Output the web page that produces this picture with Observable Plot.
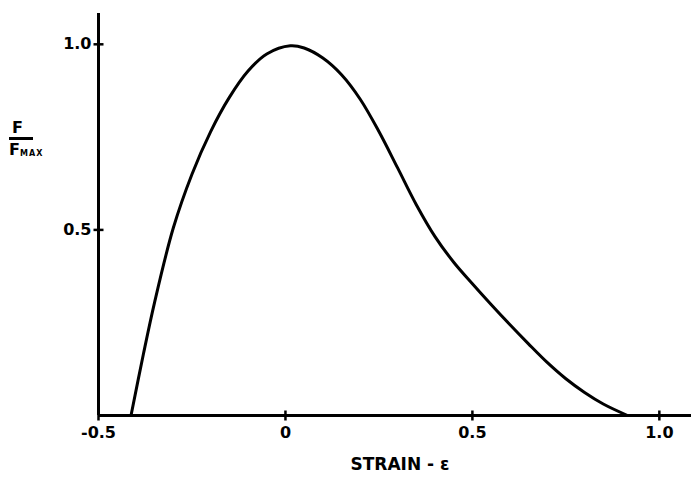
<!DOCTYPE html>
<html>
<head>
<meta charset="utf-8">
<script src="https://cdn.jsdelivr.net/npm/d3@7"></script>
<script src="https://cdn.jsdelivr.net/npm/@observablehq/plot@0.6"></script>
<style>
  html, body { margin: 0; padding: 0; background: #fff; }
  #wrap { position: relative; width: 691px; height: 478px; font-family: "DejaVu Sans", sans-serif; font-weight: bold; color: #000; }
  .yl { position: absolute; line-height: 1; }
</style>
</head>
<body>
<div id="wrap">
  <div id="chart"></div>
  <div class="yl" style="left:12px; top:120px; font-size:16px;">F</div>
  <div class="yl" style="left:9px; top:137px; width:24px; height:2.5px; background:#000;"></div>
  <div class="yl" style="left:9px; top:142px; font-size:16px;">F</div>
  <div class="yl" style="left:20px; top:150px; font-size:8px; letter-spacing:1px;">MAX</div>
</div>
<script>
// Strain values (x) and normalised force F/Fmax (y)
const strain = [-0.413, -0.38, -0.35, -0.30, -0.25, -0.20, -0.15, -0.10, -0.05, 0.013, 0.05, 0.10, 0.15, 0.20, 0.25, 0.30, 0.35, 0.40, 0.45, 0.50, 0.55, 0.60, 0.65, 0.70, 0.75, 0.80, 0.85, 0.915];
const force  = [0.0, 0.165, 0.305, 0.505, 0.650, 0.765, 0.857, 0.928, 0.974, 0.996, 0.990, 0.963, 0.918, 0.852, 0.765, 0.667, 0.568, 0.482, 0.413, 0.355, 0.299, 0.245, 0.193, 0.143, 0.099, 0.062, 0.031, 0.0];

const xTicks = [-0.5, 0, 0.5, 1.0];
const xTickLabels = ["-0.5", "0", "0.5", "1.0"];
const yTicks = [0.5, 1.0];
const yTickLabels = ["0.5", "1.0"];
const xTitle = "STRAIN - \u03B5";

const data = strain.map((s, i) => ({s, f: force[i]}));

const vline = { draw(ctx) { ctx.moveTo(0, -5); ctx.lineTo(0, 5); } };
const hline = { draw(ctx) { ctx.moveTo(-5, 0); ctx.lineTo(5, 0); } };

const chart = Plot.plot({
  width: 691,
  height: 478,
  marginLeft: 98,
  marginRight: 0,
  marginTop: 13,
  marginBottom: 63,
  style: { fontFamily: "DejaVu Sans, sans-serif", fontWeight: "bold", color: "#000", background: "#fff" },
  x: { domain: [-0.5, 1.086] },
  y: { domain: [0, 1.083] },
  marks: [
    Plot.axisX({ ticks: xTicks, tickFormat: d => xTickLabels[xTicks.indexOf(d)], tickSize: 0, tickPadding: 11, fontSize: 16, fontWeight: "bold", label: null }),
    Plot.axisY({ ticks: yTicks, tickFormat: d => yTickLabels[yTicks.indexOf(d)], tickSize: 0, tickPadding: 7, fontSize: 16, fontWeight: "bold", label: null }),
    Plot.text([xTitle], { frameAnchor: "bottom", dy: 54, dx: 5, fontSize: 17, fontWeight: "bold", text: d => d, style: "letter-spacing:1px" }),
    Plot.ruleY([0], { stroke: "black", strokeWidth: 3 }),
    Plot.ruleX([-0.5], { stroke: "black", strokeWidth: 3 }),
    Plot.dot(xTicks, { x: d => d, frameAnchor: "bottom", symbol: vline, stroke: "black", strokeWidth: 2.5, r: 5 }),
    Plot.dot(yTicks, { y: d => d, frameAnchor: "left", symbol: hline, stroke: "black", strokeWidth: 2.5, r: 5 }),
    Plot.line(data, { x: "s", y: "f", curve: "catmull-rom", stroke: "black", strokeWidth: 3 })
  ]
});
document.getElementById("chart").appendChild(chart);
</script>
</body>
</html>
